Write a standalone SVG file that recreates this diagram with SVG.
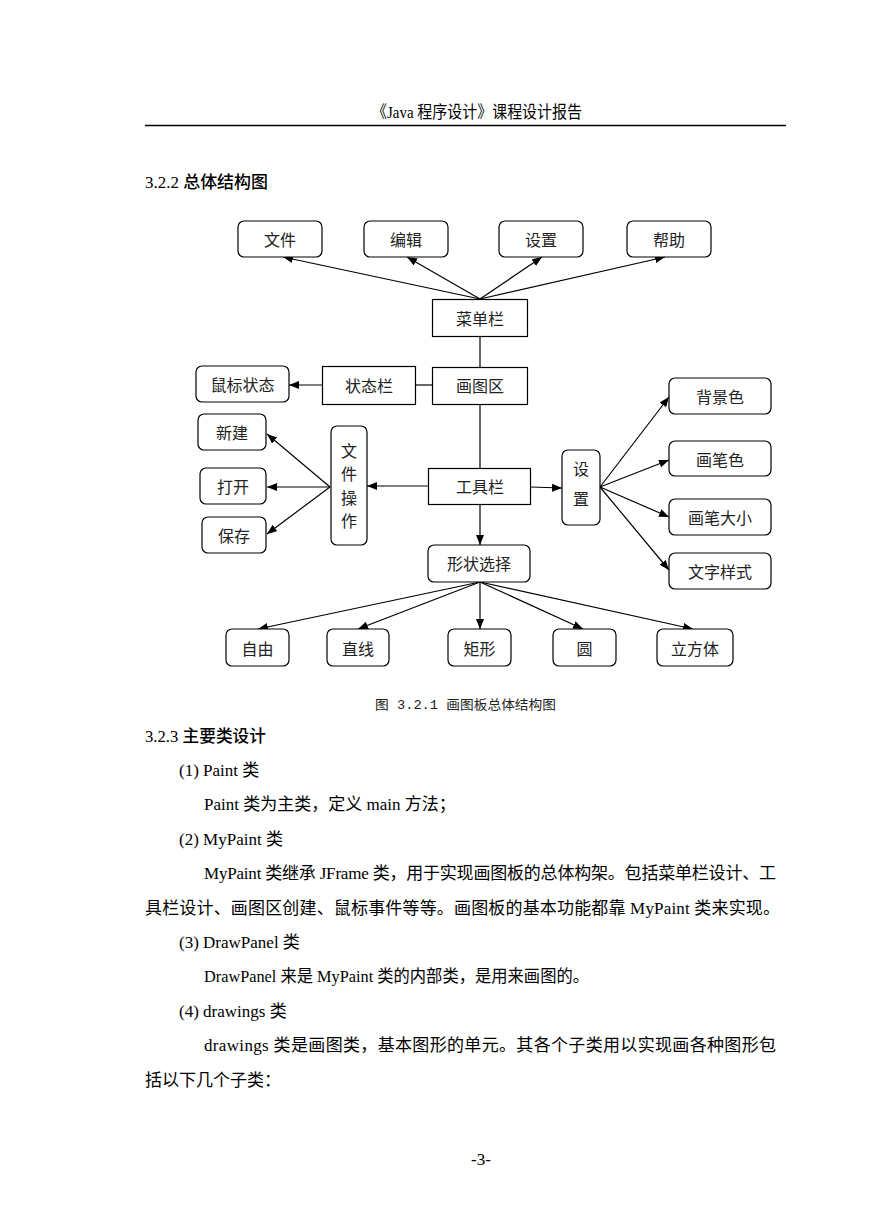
<svg xmlns="http://www.w3.org/2000/svg" width="869" height="1228" viewBox="0 0 869 1228">
<style>
.bg{fill:#fff}
.box{fill:#fff;stroke:#000;stroke-width:1.2}
.lbl{font-family:"Noto Sans CJK SC","Liberation Sans",sans-serif;font-size:16px;fill:#222;text-anchor:middle;dominant-baseline:central}
.ln{stroke:#000;stroke-width:1.2;fill:none}
.arr{stroke:#000;stroke-width:1.2;fill:none;marker-end:url(#ah)}
.body{font-family:"Liberation Serif","Noto Sans CJK SC",serif;font-size:17px;fill:#000}
.hd{font-family:"Liberation Serif","Noto Sans CJK SC",serif;font-size:17px;fill:#000}
.hdc{font-family:"Noto Sans CJK SC",sans-serif;font-weight:500}
.cap{font-family:"Liberation Mono","Noto Sans CJK SC",monospace;font-size:13px;fill:#222}
</style>
<defs>
<marker id="ah" markerUnits="userSpaceOnUse" markerWidth="11" markerHeight="9" refX="10" refY="4" orient="auto">
<path d="M0,0 L10,4 L0,8 z" fill="#000"/>
</marker>
</defs>
<rect class="bg" x="0" y="0" width="869" height="1228"/>
<!-- header -->
<text class="body" x="372" y="118" font-size="14" textLength="210" lengthAdjust="spacingAndGlyphs">《Java 程序设计》课程设计报告</text>
<line x1="145" y1="125.5" x2="786" y2="125.5" stroke="#000" stroke-width="1.3"/>
<text class="hd" x="145" y="188" textLength="123" lengthAdjust="spacingAndGlyphs">3.2.2 <tspan class="hdc">总体结构图</tspan></text>

<!-- connectors -->
<g id="connectors">
<path class="arr" d="M480,299 L283,257"/>
<path class="arr" d="M480,299 L407,257"/>
<path class="arr" d="M480,299 L542,257"/>
<path class="arr" d="M480,299 L665,257"/>
<path class="ln" d="M480,336 L480,367"/>
<path class="ln" d="M416,385 L432,385"/>
<path class="arr" d="M322,385 L289,385"/>
<path class="ln" d="M480,405 L480,468"/>
<path class="arr" d="M428,486 L367,486"/>
<path class="arr" d="M330,487 L267,434"/>
<path class="arr" d="M330,487 L267,487"/>
<path class="arr" d="M330,487 L267,534"/>
<path class="arr" d="M531,487 L562,488"/>
<path class="arr" d="M600,487 L669,397"/>
<path class="arr" d="M600,487 L669,460"/>
<path class="arr" d="M600,487 L669,517"/>
<path class="arr" d="M600,487 L669,570"/>
<path class="arr" d="M480,504 L480,545"/>
<path class="arr" d="M480,582 L258,629"/>
<path class="arr" d="M480,582 L358,629"/>
<path class="arr" d="M480,582 L480,629"/>
<path class="arr" d="M480,582 L583,629"/>
<path class="arr" d="M480,582 L693,629"/>
</g>

<!-- nodes -->
<g id="n-wenjian"><rect class="box" x="238" y="221" width="84" height="36" rx="6"/><text class="lbl" x="280" y="239">文件</text></g>
<g id="n-bianji"><rect class="box" x="364" y="221" width="84" height="36" rx="6"/><text class="lbl" x="406" y="239">编辑</text></g>
<g id="n-shezhi-top"><rect class="box" x="499" y="221" width="84" height="36" rx="6"/><text class="lbl" x="541" y="239">设置</text></g>
<g id="n-bangzhu"><rect class="box" x="627" y="221" width="84" height="36" rx="6"/><text class="lbl" x="669" y="239">帮助</text></g>
<g id="n-caidanlan"><rect class="box" x="432.5" y="299.5" width="95" height="37"/><text class="lbl" x="480" y="318">菜单栏</text></g>
<g id="n-shubiao"><rect class="box" x="196" y="366" width="93" height="36" rx="6"/><text class="lbl" x="242.5" y="384">鼠标状态</text></g>
<g id="n-zhuangtailan"><rect class="box" x="322.5" y="366.5" width="93" height="38"/><text class="lbl" x="369" y="385">状态栏</text></g>
<g id="n-huatuqu"><rect class="box" x="432.5" y="367.5" width="95" height="37"/><text class="lbl" x="480" y="385">画图区</text></g>
<g id="n-xinjian"><rect class="box" x="198" y="414" width="68" height="36" rx="6"/><text class="lbl" x="232" y="432">新建</text></g>
<g id="n-dakai"><rect class="box" x="200" y="468" width="66" height="36" rx="6"/><text class="lbl" x="233" y="486">打开</text></g>
<g id="n-baocun"><rect class="box" x="202" y="517" width="64" height="36" rx="6"/><text class="lbl" x="234" y="535">保存</text></g>
<g id="n-wenjiancaozuo"><rect class="box" x="331" y="426" width="36" height="119" rx="6"/>
<text class="lbl" x="349" y="450">文</text><text class="lbl" x="349" y="473">件</text><text class="lbl" x="349" y="497">操</text><text class="lbl" x="349" y="520">作</text></g>
<g id="n-gongjulan"><rect class="box" x="428.5" y="468.5" width="102" height="36"/><text class="lbl" x="480" y="486">工具栏</text></g>
<g id="n-shezhi"><rect class="box" x="562" y="450" width="38" height="75" rx="6"/>
<text class="lbl" x="581" y="468">设</text><text class="lbl" x="581" y="498">置</text></g>
<g id="n-beijingse"><rect class="box" x="669" y="378" width="102" height="36" rx="6"/><text class="lbl" x="720" y="396">背景色</text></g>
<g id="n-huabise"><rect class="box" x="669" y="441" width="102" height="35" rx="6"/><text class="lbl" x="720" y="459">画笔色</text></g>
<g id="n-huabidaxiao"><rect class="box" x="669" y="499" width="102" height="36" rx="6"/><text class="lbl" x="720" y="517">画笔大小</text></g>
<g id="n-wenziyangshi"><rect class="box" x="669" y="553" width="102" height="36" rx="6"/><text class="lbl" x="720" y="571">文字样式</text></g>
<g id="n-xingzhuang"><rect class="box" x="428" y="545" width="102" height="37" rx="6"/><text class="lbl" x="479" y="563">形状选择</text></g>
<g id="n-ziyou"><rect class="box" x="226" y="629" width="63" height="37" rx="6"/><text class="lbl" x="257.5" y="647.5">自由</text></g>
<g id="n-zhixian"><rect class="box" x="327" y="629" width="62" height="37" rx="6"/><text class="lbl" x="358" y="647.5">直线</text></g>
<g id="n-juxing"><rect class="box" x="448" y="629" width="63" height="37" rx="6"/><text class="lbl" x="479.5" y="647.5">矩形</text></g>
<g id="n-yuan"><rect class="box" x="553" y="629" width="63" height="37" rx="6"/><text class="lbl" x="584.5" y="647.5">圆</text></g>
<g id="n-lifangti"><rect class="box" x="657" y="629" width="76" height="37" rx="6"/><text class="lbl" x="695" y="647.5">立方体</text></g>

<!-- body text -->
<text class="cap" x="375" y="709" textLength="181" lengthAdjust="spacingAndGlyphs">图 3.2.1 画图板总体结构图</text>
<text class="hd" x="145" y="742" textLength="121" lengthAdjust="spacingAndGlyphs">3.2.3 <tspan class="hdc">主要类设计</tspan></text>
<text class="body" x="179" y="776">(1) Paint 类</text>
<text class="body" x="204" y="810">Paint 类为主类，定义 main 方法；</text>
<text class="body" x="179" y="845">(2) MyPaint 类</text>
<text class="body" x="204" y="879" textLength="572" lengthAdjust="spacing">MyPaint 类继承 JFrame 类，用于实现画图板的总体构架。包括菜单栏设计、工</text>
<text class="body" x="145" y="914" textLength="635" lengthAdjust="spacing">具栏设计、画图区创建、鼠标事件等等。画图板的基本功能都靠 MyPaint 类来实现。</text>
<text class="body" x="179" y="948">(3) DrawPanel 类</text>
<text class="body" x="204" y="982" textLength="385" lengthAdjust="spacingAndGlyphs">DrawPanel 来是 MyPaint 类的内部类，是用来画图的。</text>
<text class="body" x="179" y="1017">(4) drawings 类</text>
<text class="body" x="204" y="1051" textLength="572" lengthAdjust="spacing">drawings 类是画图类，基本图形的单元。其各个子类用以实现画各种图形包</text>
<text class="body" x="145" y="1086">括以下几个子类：</text>
<text class="body" x="481" y="1165" text-anchor="middle" font-size="14">-3-</text>
</svg>
